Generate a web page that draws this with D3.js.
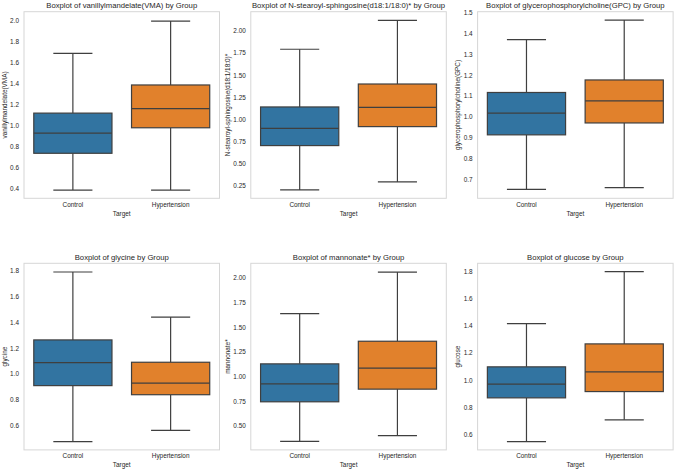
<!DOCTYPE html>
<html>
<head>
<meta charset="utf-8">
<script src="https://cdn.jsdelivr.net/npm/d3@7"></script>
<style>
  html, body { margin: 0; padding: 0; background: #ffffff; }
  svg { display: block; }
  text { font-family: "Liberation Sans", Arial, sans-serif; fill: #262626; }
</style>
</head>
<body>
<svg id="chart" width="676" height="471"></svg>
<script>
// ---------------- data ----------------
const groups = ["Control", "Hypertension"];
const metabolites = [
  "vanillylmandelate(VMA)",
  "N-stearoyl-sphingosine(d18:1/18:0)*",
  "glycerophosphorylcholine(GPC)",
  "glycine",
  "mannonate*",
  "glucose"
];
// [whiskerLow, q1, median, q3, whiskerHigh]
const controlStats = [
  [0.387, 0.736, 0.927, 1.117, 1.683],
  [0.203, 0.703, 0.898, 1.139, 1.790],
  [0.652, 0.913, 1.017, 1.116, 1.369],
  [0.479, 0.910, 1.087, 1.262, 1.785],
  [0.343, 0.744, 0.926, 1.128, 1.636],
  [0.551, 0.871, 0.971, 1.098, 1.415]
];
const hypertensionStats = [
  [0.387, 0.978, 1.159, 1.384, 1.990],
  [0.293, 0.917, 1.135, 1.398, 2.117],
  [0.660, 0.970, 1.076, 1.176, 1.463],
  [0.565, 0.840, 0.930, 1.090, 1.438],
  [0.401, 0.872, 1.084, 1.357, 2.057],
  [0.710, 0.917, 1.061, 1.266, 1.795]
];
const yDomains = [
  [0.309, 2.079],
  [0.108, 2.214],
  [0.609, 1.503],
  [0.415, 1.852],
  [0.257, 2.146],
  [0.490, 1.856]
];
const yTicks = [
  [0.4, 0.6, 0.8, 1.0, 1.2, 1.4, 1.6, 1.8, 2.0],
  [0.25, 0.50, 0.75, 1.00, 1.25, 1.50, 1.75, 2.00],
  [0.7, 0.8, 0.9, 1.0, 1.1, 1.2, 1.3, 1.4, 1.5],
  [0.6, 0.8, 1.0, 1.2, 1.4, 1.6, 1.8],
  [0.50, 0.75, 1.00, 1.25, 1.50, 1.75, 2.00],
  [0.6, 0.8, 1.0, 1.2, 1.4, 1.6, 1.8]
];
const tickDecimals = [1, 2, 1, 1, 2, 1];
const xAxisTitle = "Target";
const colors = ["#3274a1", "#e1812c"];

// ---------------- layout ----------------
const svg = d3.select("#chart");
const colLeft = [24, 250.8, 477.6];
const rowTop = [11.7, 263.3];
const pw = 195.5, ph = 186.6;
const lineColor = "#3f3f3f";
const fontStack = "'Liberation Sans', Arial, sans-serif";

metabolites.forEach((name, i) => {
  const col = i % 3, row = Math.floor(i / 3);
  const x0 = colLeft[col], y0 = rowTop[row];
  const g = svg.append("g").attr("transform", `translate(${x0},${y0})`);

  const x = d3.scaleBand().domain(groups).range([0, pw])
    .paddingInner(0.2).paddingOuter(0.1);
  const y = d3.scaleLinear().domain(yDomains[i]).range([ph, 0]);

  // frame
  g.append("rect").attr("x", 0).attr("y", 0).attr("width", pw).attr("height", ph)
    .attr("fill", "#ffffff").attr("stroke", "#d6d6d6").attr("stroke-width", 1);

  // y axis
  const fmt = d3.format("." + tickDecimals[i] + "f");
  const yAxis = g.append("g").call(d3.axisLeft(y).tickValues(yTicks[i]).tickFormat(fmt).tickSize(0).tickPadding(5));
  yAxis.select(".domain").remove();
  yAxis.selectAll("text").attr("font-size", 6.4).style("fill", "#262626")
    .style("font-family", fontStack);

  // x axis
  const xAxis = g.append("g").attr("transform", `translate(0,${ph})`)
    .call(d3.axisBottom(x).tickSize(0).tickPadding(4));
  xAxis.select(".domain").remove();
  xAxis.selectAll("text").attr("font-size", 6.4).style("fill", "#262626")
    .style("font-family", fontStack);

  // boxes
  const statsList = [controlStats[i], hypertensionStats[i]];
  groups.forEach((grp, k) => {
    const s = statsList[k];
    const cx = x(grp) + x.bandwidth() / 2;
    const bw = x.bandwidth();
    const bg = g.append("g");
    bg.append("line").attr("x1", cx).attr("x2", cx).attr("y1", y(s[0])).attr("y2", y(s[1]))
      .attr("stroke", lineColor).attr("stroke-width", 1.2);
    bg.append("line").attr("x1", cx).attr("x2", cx).attr("y1", y(s[3])).attr("y2", y(s[4]))
      .attr("stroke", lineColor).attr("stroke-width", 1.2);
    [s[0], s[4]].forEach(v => {
      bg.append("line").attr("x1", cx - bw / 4).attr("x2", cx + bw / 4)
        .attr("y1", y(v)).attr("y2", y(v))
        .attr("stroke", lineColor).attr("stroke-width", 1.2);
    });
    bg.append("rect").attr("x", x(grp)).attr("width", bw)
      .attr("y", y(s[3])).attr("height", y(s[1]) - y(s[3]))
      .attr("fill", colors[k]).attr("stroke", lineColor).attr("stroke-width", 1.2);
    bg.append("line").attr("x1", x(grp)).attr("x2", x(grp) + bw)
      .attr("y1", y(s[2])).attr("y2", y(s[2]))
      .attr("stroke", lineColor).attr("stroke-width", 1.2);
  });

  // title
  g.append("text").attr("x", pw / 2).attr("y", -3.6).attr("text-anchor", "middle")
    .attr("font-size", 7.7).text(`Boxplot of ${name} by Group`);

  // x axis label
  g.append("text").attr("x", pw / 2).attr("y", ph + 17.3).attr("text-anchor", "middle")
    .attr("font-size", 6.4).text(xAxisTitle);

  // y axis label, placed left of the tick labels
  const tb = yAxis.node().getBBox();
  const lx = tb.x - 3.6;
  g.append("text").attr("transform", `translate(${lx},${ph / 2}) rotate(-90)`)
    .attr("text-anchor", "middle").attr("font-size", 6.4).text(name);
});
</script>
</body>
</html>
